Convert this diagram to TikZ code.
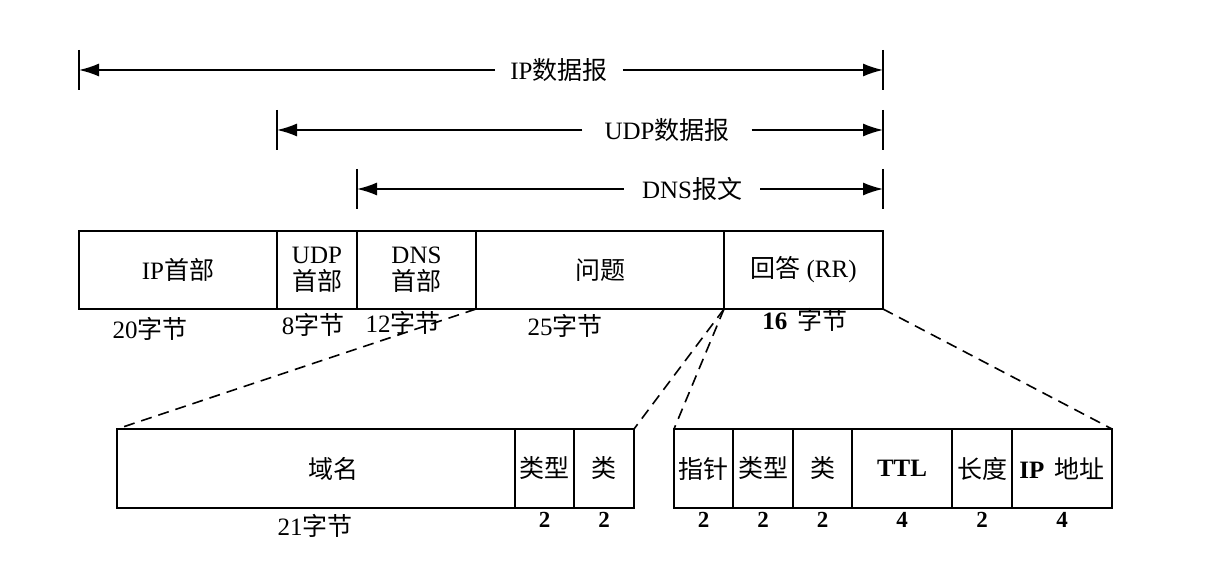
\documentclass[tikz,border=0pt]{standalone}
\usepackage{fontspec}
\setmainfont{Liberation Serif}
\newfontfamily\cjk{Noto Sans CJK SC}
\newcommand{\zh}[1]{{\cjk #1}}
\usepackage{tikz}
\usetikzlibrary{%
  calc,
  positioning,
  arrows.meta,
}

\tikzset{
  field/.style = {draw, line width=1.6pt, inner sep=0pt, outer sep=0pt,
    minimum height=78pt, anchor=north west, align=center},
  size/.style = {inner sep=1pt},
  bytes/.style = {inner sep=1pt, font=\fontsize{23}{27}\selectfont\bfseries},
  span/.style = {line width=1.6pt, -{Latex[length=20pt, width=13pt]}},
  tick/.style = {line width=1.6pt},
  zoomline/.style = {line width=1.6pt, dash pattern=on 11pt off 7pt},
}

\begin{document}
\begin{tikzpicture}[x=1pt, y=-1pt, font=\fontsize{25}{29}\selectfont]
  \useasboundingbox (0,0) rectangle (1228,577);
  % one unit = one pixel, y grows downward

  % the three spans
  \coordinate (ipL) at (79,70);
  \coordinate (ipR) at (883,70);
  \coordinate (udpL) at (277,130);
  \coordinate (udpR) at (883,130);
  \coordinate (dnsL) at (357,189);
  \coordinate (dnsR) at (883,189);

  \node[inner xsep=15pt] (iplbl) at (559,70) {IP\zh{数据报}};
  \node[inner xsep=22pt] (udplbl) at (667,130) {UDP\zh{数据报}};
  \node[inner xsep=18pt] (dnslbl) at (692,189) {DNS\zh{报文}};

  \draw[span] (iplbl) -- (ipL);
  \draw[span] (iplbl) -- (ipR);
  \draw[span] (udplbl) -- (udpL);
  \draw[span] (udplbl) -- (udpR);
  \draw[span] (dnslbl) -- (dnsL);
  \draw[span] (dnslbl) -- (dnsR);

  \foreach \p in {ipL, ipR, udpL, udpR, dnsL, dnsR}
    \draw[tick] (\p) ++(0,-20) -- ++(0,40);

  % the packet
  \node[field, minimum width=198pt] (iphdr) at (79,231) {IP\zh{首部}};
  \node[field, minimum width=80pt] (udphdr) at (iphdr.north east)
    {UDP\\[-2pt]\zh{首部}};
  \node[field, minimum width=119pt] (dnshdr) at (udphdr.north east)
    {DNS\\[-2pt]\zh{首部}};
  \node[field, minimum width=248pt] (question) at (dnshdr.north east)
    {\zh{问题}};
  \node[field, minimum width=159pt] (answer) at (question.north east)
    {\zh{回答} (RR)};

  \node[size] (iplen) at (150,329) {20\zh{字节}};
  \node[size] (udplen) at (313,325) {8\zh{字节}};
  \node[size] (dnslen) at (403,323) {12\zh{字节}};
  \node[size] (qlen) at (565,326) {25\zh{字节}};
  \node[size] (alen) at (805,320) {\textbf{16}\, \zh{字节}};

  % question section
  \node[field, minimum width=398pt, minimum height=79pt] (qname)
    at (117,429) {\hspace*{34pt}\zh{域名}};
  \node[field, minimum width=59pt, minimum height=79pt] (qtype)
    at (qname.north east) {\zh{类型}};
  \node[field, minimum width=60pt, minimum height=79pt] (qclass)
    at (qtype.north east) {\zh{类}};

  \node[size] (qnamelen) at (315,526) {21\zh{字节}};
  \node[bytes, below=3pt of qtype] (qtypelen) {2};
  \node[bytes, below=3pt of qclass] (qclasslen) {2};

  % answer record
  \node[field, minimum width=59pt, minimum height=79pt] (ptr)
    at (674,429) {\zh{指针}};
  \node[field, minimum width=60pt, minimum height=79pt] (rtype)
    at (ptr.north east) {\zh{类型}};
  \node[field, minimum width=59pt, minimum height=79pt] (rclass)
    at (rtype.north east) {\zh{类}};
  \node[field, minimum width=100pt, minimum height=79pt] (ttl)
    at (rclass.north east) {\textbf{TTL}};
  \node[field, minimum width=60pt, minimum height=79pt] (rdlen)
    at (ttl.north east) {\zh{长度}};
  \node[field, minimum width=100pt, minimum height=79pt] (rdata)
    at (rdlen.north east) {\textbf{IP}\, \zh{地址}};

  \node[bytes, below=3pt of ptr] (ptrlen) {2};
  \node[bytes, below=3pt of rtype] (rtypelen) {2};
  \node[bytes, below=3pt of rclass] (rclasslen) {2};
  \node[bytes, below=3pt of ttl] (ttllen) {4};
  \node[bytes, below=3pt of rdlen] (rdlenlen) {2};
  \node[bytes, below=3pt of rdata] (rdatalen) {4};

  % fan out
  \draw[zoomline] (question.south west) -- (qname.north west);
  \draw[zoomline] (question.south east) -- (qclass.north east);
  \draw[zoomline] (answer.south west) -- (ptr.north west);
  \draw[zoomline] (answer.south east) -- (rdata.north east);
\end{tikzpicture}
\end{document}
